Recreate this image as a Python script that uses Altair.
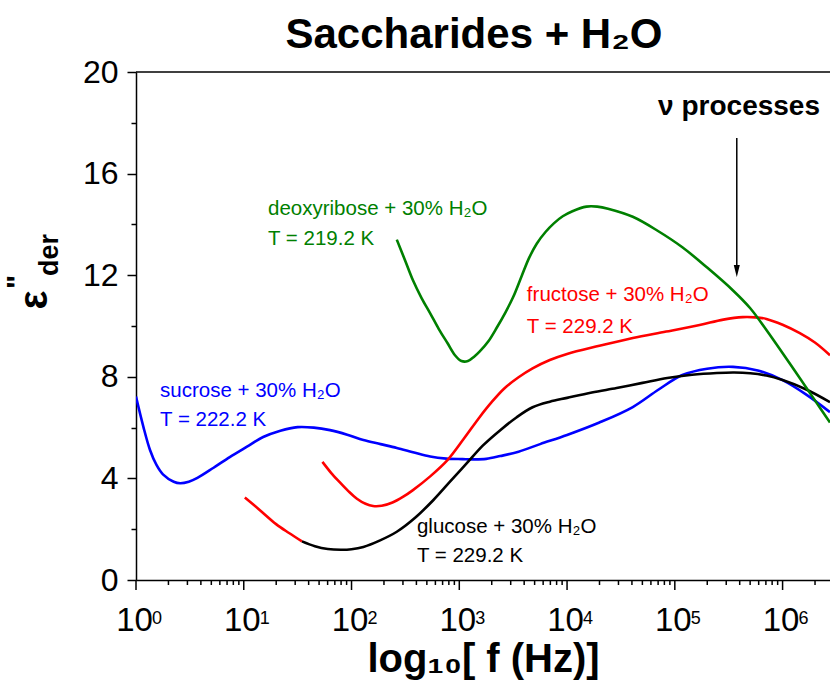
import altair as alt
import pandas as pd

# ---- curves: log10(f / Hz) and eps''_der ----
sucrose_logf = [0.0, 0.068, 0.13, 0.19, 0.25, 0.35, 0.41, 0.49, 0.57, 0.72, 0.87, 1.03, 1.18,
                1.34, 1.50, 1.65, 1.80, 1.96, 2.11, 2.27, 2.42, 2.58, 2.73, 2.88, 3.03, 3.13,
                3.25, 3.38, 3.55, 3.75, 4.0, 4.3, 4.61, 4.85, 5.07, 5.3, 5.54, 5.77, 6.0,
                6.22, 6.44]
sucrose_eps = [7.22, 6.04, 5.12, 4.53, 4.16, 3.87, 3.81, 3.87, 4.02, 4.42, 4.84, 5.25, 5.63,
               5.88, 6.02, 6.0, 5.9, 5.72, 5.51, 5.35, 5.2, 5.02, 4.86, 4.78, 4.76, 4.75,
               4.77, 4.88, 5.05, 5.35, 5.71, 6.2, 6.81, 7.5, 8.07, 8.32, 8.39, 8.25, 7.87,
               7.3, 6.61]

glucose_low_logf = [1.01, 1.15, 1.30, 1.42, 1.54]
glucose_low_eps = [3.25, 2.75, 2.2, 1.85, 1.52]

glucose_logf = [1.54, 1.66, 1.78, 1.90, 2.0, 2.11, 2.26, 2.42, 2.59, 2.76, 2.92, 3.07, 3.22,
                3.38, 3.53, 3.68, 3.84, 4.0, 4.23, 4.46, 4.7, 4.93, 5.16, 5.39, 5.55, 5.70,
                5.85, 6.0, 6.22, 6.44]
glucose_eps = [1.52, 1.33, 1.22, 1.19, 1.21, 1.3, 1.55, 1.9, 2.45, 3.15, 3.9, 4.6, 5.3,
               5.9, 6.4, 6.8, 7.02, 7.17, 7.38, 7.56, 7.76, 7.95, 8.08, 8.15, 8.17, 8.14,
               8.05, 7.87, 7.5, 7.0]

fructose_logf = [1.73, 1.81, 1.89, 1.97, 2.05, 2.13, 2.20, 2.28, 2.38, 2.48, 2.57, 2.73,
                 2.89, 3.04, 3.19, 3.30, 3.42, 3.55, 3.68, 3.84, 4.0, 4.3, 4.61, 4.92, 5.23,
                 5.45, 5.63, 5.75, 5.85, 6.0, 6.16, 6.3, 6.44]
fructose_eps = [4.65, 4.22, 3.85, 3.5, 3.2, 3.0, 2.91, 2.92, 3.05, 3.28, 3.54, 4.08,
                4.72, 5.55, 6.42, 7.0, 7.55, 7.98, 8.33, 8.66, 8.9, 9.22, 9.53, 9.78, 10.04,
                10.25, 10.35, 10.34, 10.28, 10.05, 9.72, 9.35, 8.85]

deoxyribose_logf = [2.42, 2.50, 2.57, 2.65, 2.73, 2.81, 2.89, 2.96, 3.02, 3.08, 3.14, 3.19,
                    3.27, 3.35, 3.43, 3.50, 3.58, 3.65, 3.72, 3.80, 3.88, 3.96, 4.05, 4.18,
                    4.28, 4.38, 4.61, 4.84, 5.07, 5.30, 5.54, 5.70, 5.85, 6.07, 6.28, 6.44]
deoxyribose_eps = [13.4, 12.55, 11.8, 11.1, 10.5, 9.88, 9.33, 8.85, 8.62, 8.62, 8.8, 9.0,
                   9.4, 9.95, 10.55, 11.14, 11.98, 12.7, 13.25, 13.7, 14.05, 14.32, 14.52, 14.7,
                   14.7, 14.62, 14.3, 13.75, 13.1, 12.3, 11.4, 10.7, 9.84, 8.5, 7.2, 6.2]

series = [
    ("sucrose", "#0000ff", sucrose_logf, sucrose_eps),
    ("glucose_low", "#ff0000", glucose_low_logf, glucose_low_eps),
    ("glucose", "#000000", glucose_logf, glucose_eps),
    ("fructose", "#ff0000", fructose_logf, fructose_eps),
    ("deoxyribose", "#008000", deoxyribose_logf, deoxyribose_eps),
]

rows = []
for name, col, lf, ev in series:
    for a, b in zip(lf, ev):
        rows.append({"series": name, "color": col, "f": 10 ** a, "eps": b})
curves = pd.DataFrame(rows)

# ---- sample labels ----
label_text = ["deoxyribose + 30% H\u2082O", "T = 219.2 K",
              "fructose + 30% H\u2082O", "T = 229.2 K",
              "sucrose + 30% H\u2082O", "T = 222.2 K",
              "glucose + 30% H\u2082O", "T = 229.2 K"]
label_logf = [1.225, 1.225, 3.627, 3.627, 0.223, 0.223, 2.607, 2.607]
label_eps = [14.62, 13.42, 11.22, 9.96, 7.45, 6.28, 2.07, 0.96]
label_color = ["#008000", "#008000", "#ff0000", "#ff0000",
               "#0000ff", "#0000ff", "#000000", "#000000"]
labels = pd.DataFrame({"text": label_text, "f": [10 ** v for v in label_logf],
                       "eps": label_eps, "color": label_color})

# ---- nu-process arrow ----
arrow_logf = 5.575
arrow_top_eps = 17.4
arrow_shaft_end_eps = 12.4
arrow_head_eps = 12.17
nu_label = "\u03bd processes"
nu_logf = 6.44
nu_eps = 18.63

# ---- axis ticks ----
decade_exponents = [0, 1, 2, 3, 4, 5, 6]
x_max = 10 ** 6.44
x_major = [10 ** k for k in decade_exponents]
x_minor = [m * 10 ** k for k in decade_exponents for m in range(2, 10) if m * 10 ** k <= x_max]
y_ticks = list(range(0, 21, 2))

W, H = 694, 508
FONT = "Liberation Sans"

x_scale = alt.Scale(type="log", domain=[1, x_max], nice=False)
y_scale = alt.Scale(domain=[0, 20], nice=False, zero=False)

x_axis = alt.Axis(
    values=x_major, labelExpr="'10'", ticks=False,
    labelFontSize=33, labelFont=FONT, labelColor="black", labelPadding=24,
    labelOffset=-2, labelFlush=False, labelOverlap=False, grid=False,
    title="log\u2081\u2080[ f (Hz)]", titleFont=FONT, titleFontSize=40,
    titleFontWeight="bold", titleColor="black", titlePadding=2,
)
y_axis = alt.Axis(
    values=y_ticks, labelExpr="datum.value % 4 == 0 ? datum.label : ''",
    tickSize={"condition": {"test": "datum.value % 4 == 0", "value": 9}, "value": 5},
    labelFontSize=32, labelFont=FONT, labelColor="black", labelPadding=9,
    labelOverlap=False, grid=False, title=None,
)

lines = alt.Chart(curves).mark_line(strokeWidth=2.6, clip=True, interpolate="catmull-rom").encode(
    x=alt.X("f:Q", scale=x_scale, axis=x_axis),
    y=alt.Y("eps:Q", scale=y_scale, axis=y_axis),
    color=alt.Color("color:N", scale=None),
    detail="series:N",
)

frame_top = alt.Chart(pd.DataFrame({"a": [0]})).mark_rule(color="black", strokeWidth=1.5).encode(
    x=alt.value(0), x2=alt.value(W), y=alt.value(0)
)

# x-axis tick marks (major decades and minor 2..9 steps), hanging below the axis line
major_ticks = alt.Chart(pd.DataFrame({"f": x_major})).mark_tick(
    orient="vertical", size=10, thickness=1.5, color="black", opacity=1
).encode(x=alt.X("f:Q", scale=x_scale), y=alt.value(H + 5))
minor_ticks = alt.Chart(pd.DataFrame({"f": x_minor})).mark_tick(
    orient="vertical", size=5, thickness=1.5, color="black", opacity=1
).encode(x=alt.X("f:Q", scale=x_scale), y=alt.value(H + 2.5))

label_layer = alt.Chart(labels).mark_text(
    align="left", baseline="middle", fontSize=20.5, font=FONT
).encode(
    x=alt.X("f:Q", scale=x_scale), y=alt.Y("eps:Q", scale=y_scale),
    text="text:N", color=alt.Color("color:N", scale=None),
)

nu_layer = alt.Chart(pd.DataFrame({"f": [10 ** nu_logf], "eps": [nu_eps], "t": [nu_label]})).mark_text(
    align="right", baseline="middle", fontSize=28, fontWeight="bold", font=FONT, color="black", dx=-10
).encode(x=alt.X("f:Q", scale=x_scale), y=alt.Y("eps:Q", scale=y_scale), text="t:N")

arrow_df = pd.DataFrame({"f": [10 ** arrow_logf], "y1": [arrow_top_eps],
                         "y2": [arrow_shaft_end_eps], "yh": [arrow_head_eps]})
arrow_shaft = alt.Chart(arrow_df).mark_rule(color="black", strokeWidth=1.5).encode(
    x=alt.X("f:Q", scale=x_scale), y=alt.Y("y1:Q", scale=y_scale), y2="y2:Q"
)
arrow_head = alt.Chart(arrow_df).mark_point(
    shape="M-0.5,-1L0.5,-1L0,1Z", size=144, filled=True, color="black", opacity=1
).encode(x=alt.X("f:Q", scale=x_scale), y=alt.Y("yh:Q", scale=y_scale))

exp_df = pd.DataFrame({"f": x_major, "t": [str(k) for k in decade_exponents]})
exp_layer = alt.Chart(exp_df).mark_text(
    align="left", baseline="top", fontSize=18, font=FONT, color="black", dx=16
).encode(x=alt.X("f:Q", scale=x_scale), y=alt.value(H + 30), text="t:N")

# y-axis title: eps'' with subscript "der", rotated
ytitle_df = pd.DataFrame({
    "t": ["\u03b5", "\"", "der"],
    "px": [-101, -118, -86],
    "py": [228, 210, 183],
    "fs": [40, 30, 27],
})
ytitle = alt.Chart(ytitle_df).mark_text(
    angle=270, align="center", baseline="middle", fontWeight="bold", font=FONT, color="black"
).encode(
    x=alt.X("px:Q", scale=None), y=alt.Y("py:Q", scale=None), text="t:N",
    size=alt.Size("fs:Q", scale=None, legend=None),
)

chart = alt.layer(
    lines, frame_top, major_ticks, minor_ticks, label_layer, nu_layer,
    arrow_shaft, arrow_head, exp_layer, ytitle
).properties(
    width=W, height=H,
    title=alt.TitleParams("Saccharides + H\u2082O", font=FONT, fontSize=42, fontWeight="bold",
                          color="black", anchor="middle", offset=4, dx=-9, dy=5),
    autosize=alt.AutoSizeParams(type="none"),
    padding={"left": 136, "top": 72, "right": 0, "bottom": 102},
).configure_view(stroke=None).configure_axis(
    domainColor="black", domainWidth=1.5, tickColor="black", tickWidth=1.5
)

chart.save("out.html", embed_options={"renderer": "svg", "actions": False})
